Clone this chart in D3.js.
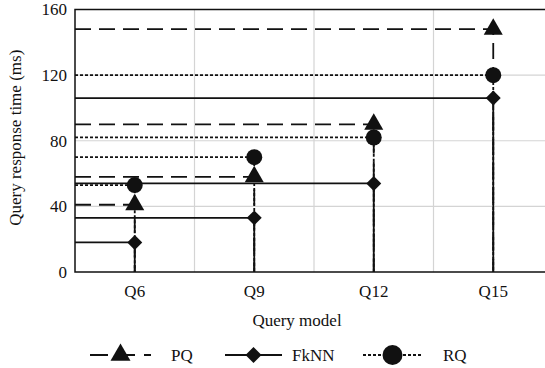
<!DOCTYPE html>
<html>
<head>
<meta charset="utf-8">
<script src="https://cdn.jsdelivr.net/npm/d3@7"></script>
<style>
  body { margin: 0; background: #fff; }
  svg text { font-family: "Liberation Serif", "Times New Roman", serif; font-size: 17px; fill: #111; }
</style>
</head>
<body>
<svg id="chart" width="545" height="368"></svg>
<script>
// data (ms)
const categories = ["Q6", "Q9", "Q12", "Q15"];
const pq = [41, 58, 90, 148];
const fknn = [18, 33, 54, 106];
const rq = [53, 70, 82, 120];
const yTicks = [0, 40, 80, 120, 160];
const seriesNames = ["PQ", "FkNN", "RQ"];

const series = [
  { name: seriesNames[0], values: pq, dash: "16,8", symbol: "triangle" },
  { name: seriesNames[1], values: fknn, dash: null, symbol: "diamond" },
  { name: seriesNames[2], values: rq, dash: "3,2", symbol: "circle" }
];

const svg = d3.select("#chart");
const plotL = 75, plotR = 553, plotT = 9.5, plotB = 272;

const x = d3.scaleBand().domain(categories).range([plotL, plotR]);
const cx = c => x(c) + x.bandwidth() / 2;
const y = d3.scaleLinear().domain([0, 160]).range([plotB, plotT]);

function marker(sel, type, big) {
  if (type === "circle") {
    sel.append("circle").attr("r", big ? 10 : 8).attr("fill", "#111");
  } else if (type === "triangle") {
    sel.append("path").attr("d", d3.symbol(d3.symbolTriangle, big ? 173 : 157)()).attr("fill", "#111");
  } else {
    sel.append("path").attr("d", d3.symbol(d3.symbolSquare, big ? 128 : 112)())
      .attr("transform", "rotate(45)").attr("fill", "#111");
  }
}

// grid
svg.append("g").selectAll("line")
  .data(yTicks.slice(1, -1))
  .enter().append("line")
  .attr("x1", plotL).attr("x2", plotR)
  .attr("y1", d => y(d)).attr("y2", d => y(d))
  .attr("stroke", "#d4d4d4").attr("stroke-width", 1.2);

svg.append("g").selectAll("line")
  .data(categories.slice(1))
  .enter().append("line")
  .attr("x1", d => x(d)).attr("x2", d => x(d))
  .attr("y1", plotT).attr("y2", plotB)
  .attr("stroke", "#d4d4d4").attr("stroke-width", 1.2);

// frame
svg.append("path")
  .attr("d", `M${plotR},${plotT}H${plotL}V${plotB}H${plotR}`)
  .attr("fill", "none").attr("stroke", "#111").attr("stroke-width", 1.5);

// step lines: from the y axis over to the point, then down to zero
series.forEach(s => {
  svg.append("g").selectAll("path")
    .data(s.values.map((v, i) => ({ c: categories[i], v })))
    .enter().append("path")
    .attr("d", d => `M${plotL},${y(d.v)}H${cx(d.c)}V${y(0)}`)
    .attr("fill", "none")
    .attr("stroke", "#111")
    .attr("stroke-width", 1.8)
    .attr("stroke-dasharray", s.dash);
});

series.forEach(s => {
  svg.append("g").selectAll("g")
    .data(s.values.map((v, i) => ({ c: categories[i], v })))
    .enter().append("g")
    .attr("transform", d => `translate(${cx(d.c)},${y(d.v)})`)
    .each(function() { marker(d3.select(this), s.symbol, false); });
});

// axes labels
svg.append("g").selectAll("text")
  .data(yTicks)
  .enter().append("text")
  .attr("x", 67).attr("y", d => y(d)).attr("dy", "0.35em")
  .attr("text-anchor", "end")
  .text(d => d);

svg.append("g").selectAll("text")
  .data(categories)
  .enter().append("text")
  .attr("x", d => cx(d)).attr("y", 297)
  .attr("text-anchor", "middle")
  .text(d => d);

svg.append("text")
  .attr("x", 297).attr("y", 326)
  .attr("text-anchor", "middle")
  .text("Query model");

svg.append("text")
  .attr("transform", `translate(21,${(plotT + plotB) / 2 - 3}) rotate(-90)`)
  .attr("text-anchor", "middle")
  .text("Query response time (ms)");

// legend
const legendY = 355;
const legendLayout = [
  { x0: 90, x1: 151, tx: 171 },
  { x0: 225, x1: 282, tx: 292 },
  { x0: 363, x1: 422, tx: 443 }
];
const lg = svg.append("g").selectAll("g")
  .data(series)
  .enter().append("g");
lg.append("line")
  .attr("x1", (d, i) => legendLayout[i].x0).attr("x2", (d, i) => legendLayout[i].x1)
  .attr("y1", legendY).attr("y2", legendY)
  .attr("stroke", "#111").attr("stroke-width", 1.8)
  .attr("stroke-dasharray", d => d.dash === "16,8" ? "18,9" : d.dash);
lg.append("g")
  .attr("transform", (d, i) => `translate(${(legendLayout[i].x0 + legendLayout[i].x1) / 2},${legendY})`)
  .each(function(d) { marker(d3.select(this), d.symbol, true); });
lg.append("text")
  .attr("x", (d, i) => legendLayout[i].tx).attr("y", legendY).attr("dy", "0.35em")
  .text(d => d.name);
</script>
</body>
</html>
